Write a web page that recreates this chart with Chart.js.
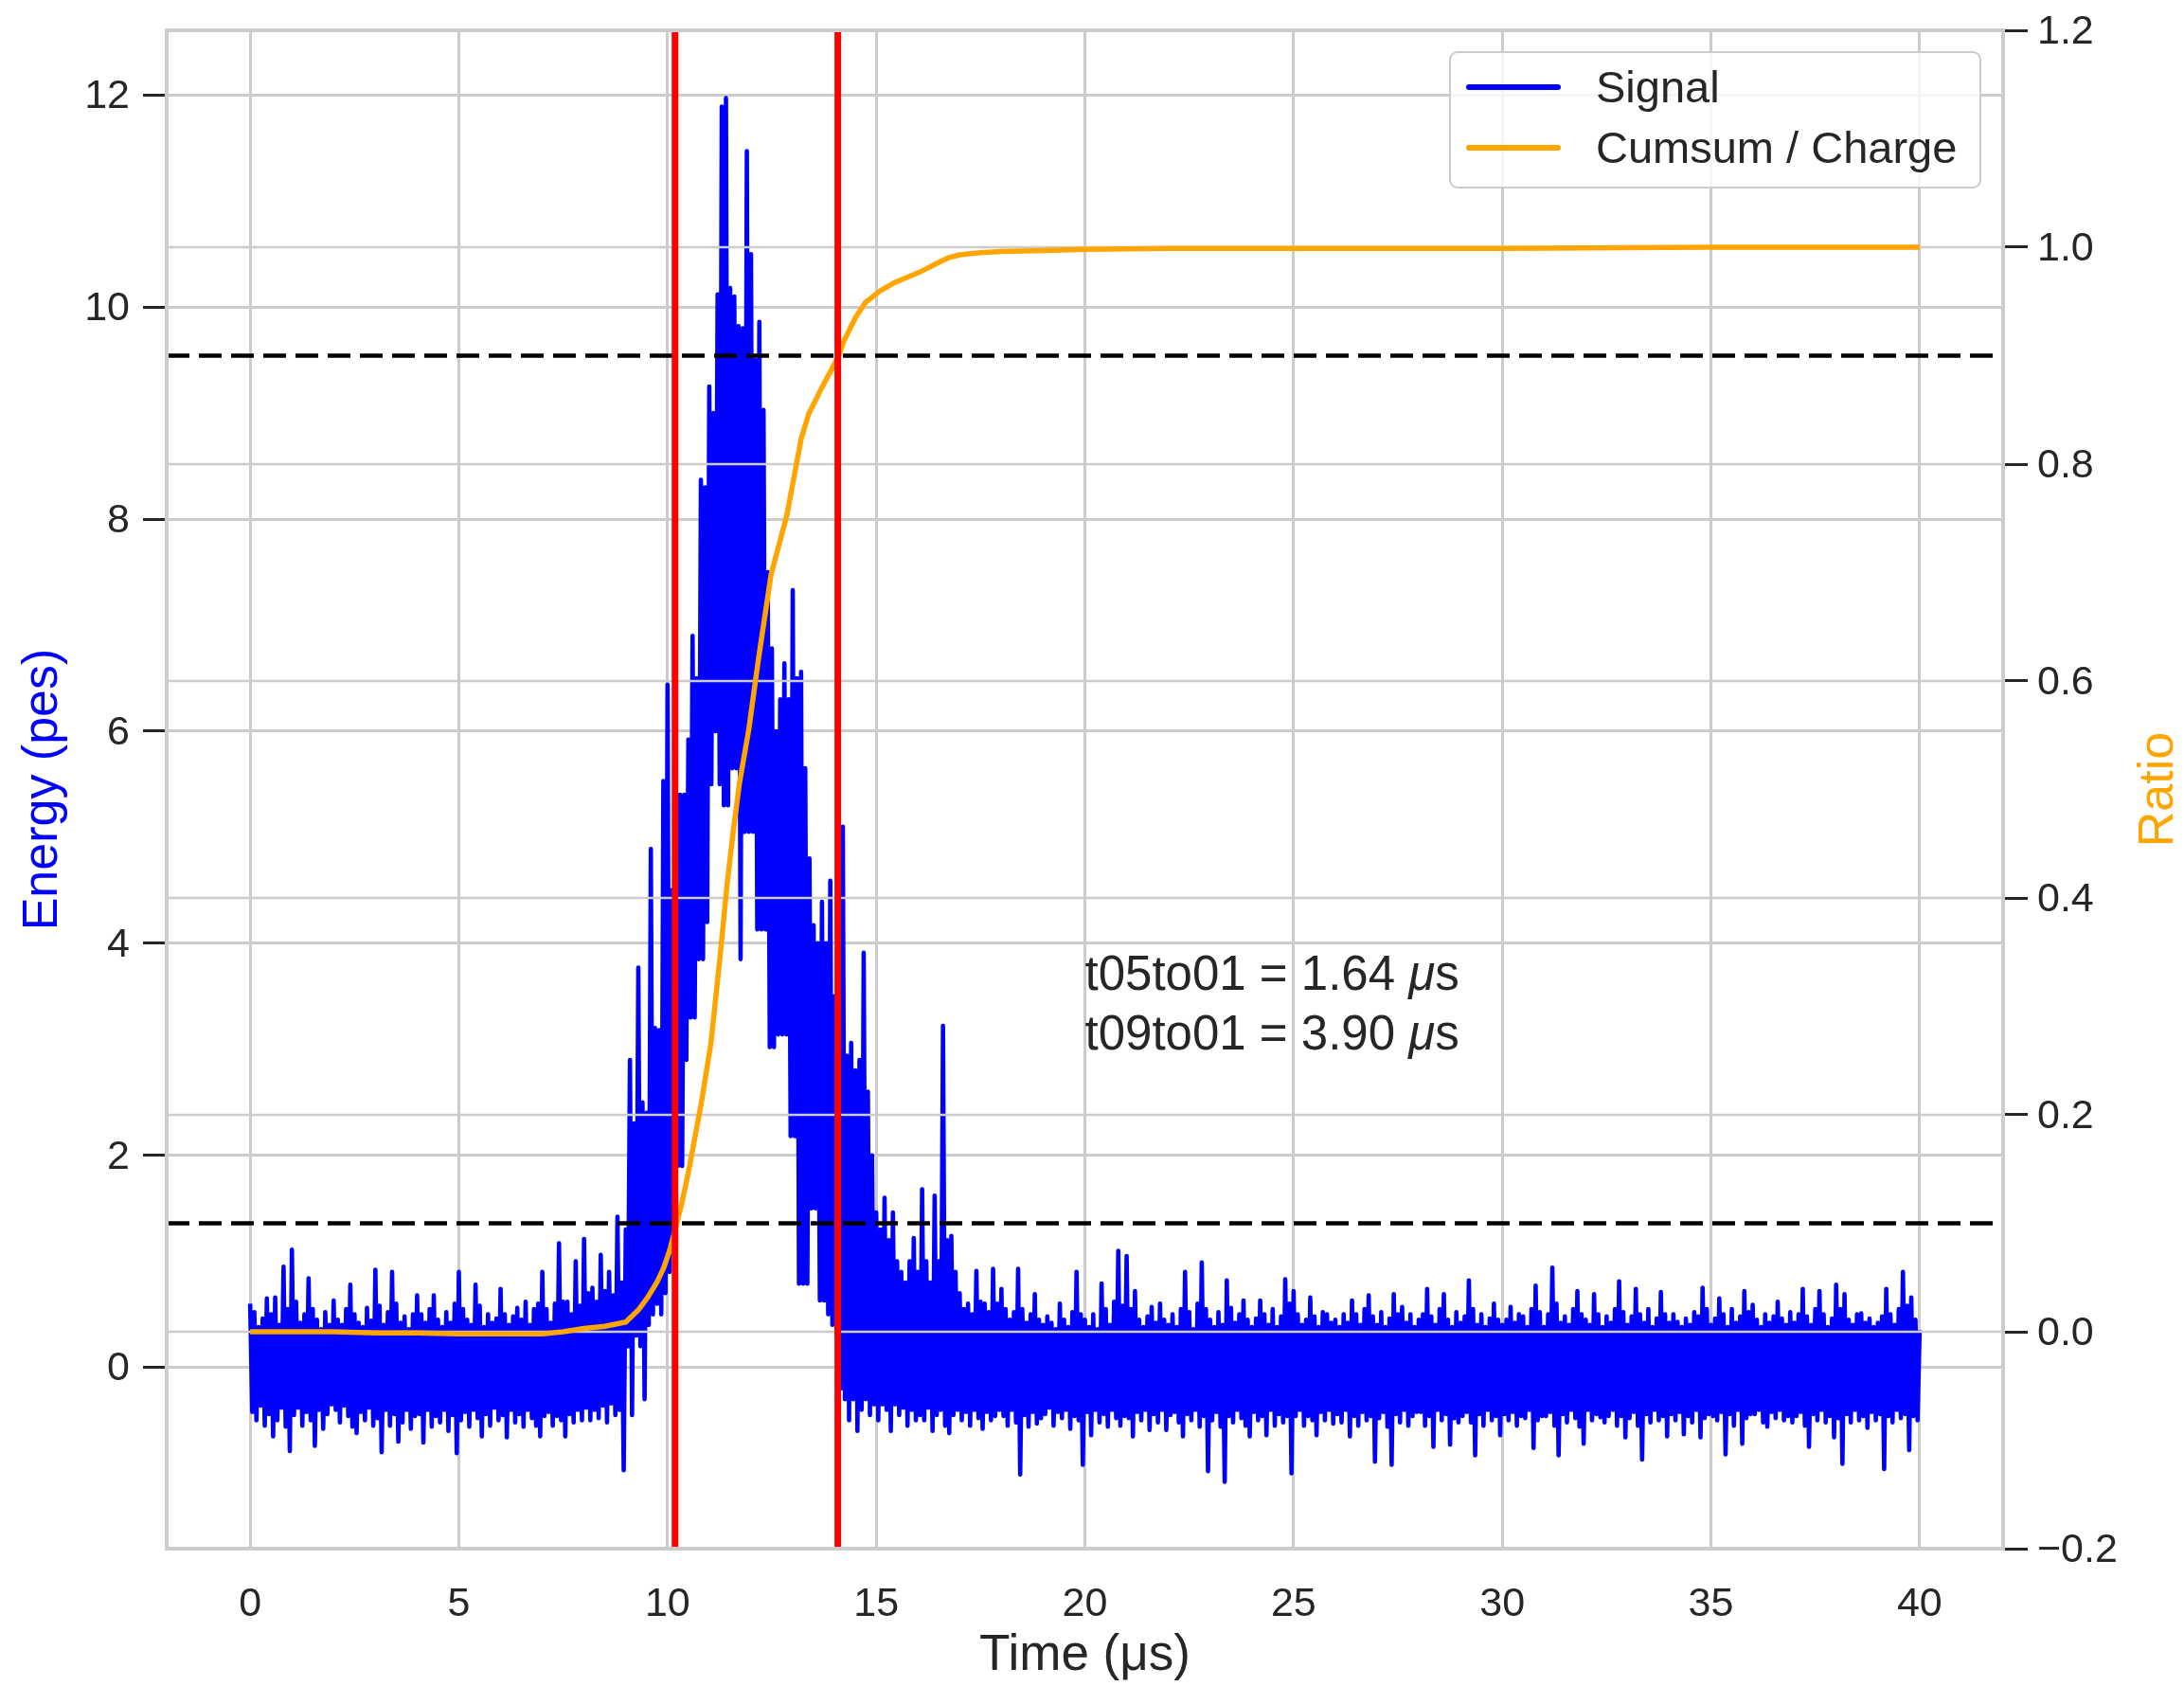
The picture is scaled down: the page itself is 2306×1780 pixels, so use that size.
<!DOCTYPE html>
<html>
<head>
<meta charset="utf-8">
<title>Signal and cumulative charge</title>
<script src="https://cdn.jsdelivr.net/npm/chart.js@4.4.1/dist/chart.umd.min.js"></script>
<style>
  html, body { margin: 0; padding: 0; background: #fff; }
  canvas { display: block; }
</style>
</head>
<body>
<canvas id="waveform" width="2306" height="1780"></canvas>
<script>
// signal in pes per 0.1 us bin:
// signalHigh = top of the trace at the start of each bin, signalLow = bottom at its middle
const binWidth = 0.1;
const signalHigh = [
  0.60, 0.52, 0.38, 0.46, 0.65, 0.50, 0.66, 0.40, 0.95, 0.55,    // 0
  1.11, 0.62, 0.42, 0.50, 0.84, 0.55, 0.45, 0.36, 0.52, 0.40,    // 1
  0.63, 0.45, 0.40, 0.55, 0.78, 0.50, 0.42, 0.38, 0.56, 0.44,    // 2
  0.92, 0.58, 0.40, 0.52, 0.90, 0.60, 0.42, 0.48, 0.36, 0.50,    // 3
  0.68, 0.50, 0.42, 0.55, 0.68, 0.45, 0.38, 0.52, 0.42, 0.60,    // 4
  0.90, 0.55, 0.45, 0.40, 0.78, 0.58, 0.38, 0.50, 0.42, 0.46,    // 5
  0.74, 0.50, 0.40, 0.48, 0.56, 0.45, 0.62, 0.40, 0.55, 0.60,    // 6
  0.90, 0.55, 0.42, 0.60, 1.17, 0.62, 0.62, 0.50, 1.00, 0.58,    // 7
  1.21, 0.70, 0.75, 0.62, 1.06, 0.72, 0.90, 0.68, 1.42, 0.80,    // 8
  1.30, 2.90, 2.30, 3.77, 2.50, 2.40, 4.89, 3.20, 3.18, 5.53,    // 9
  6.44, 4.50, 5.37, 5.40, 5.40, 5.92, 6.90, 6.50, 8.37, 8.30,    // 10
  9.25, 9.00, 10.12, 11.89, 11.97, 10.18, 10.10, 9.82, 9.80, 11.47, // 11
  10.50, 9.50, 9.86, 9.03, 7.50, 6.78, 6.00, 6.30, 6.64, 6.30,   // 12
  7.33, 6.50, 6.56, 5.65, 4.80, 4.17, 4.00, 4.39, 4.00, 4.59,    // 13
  3.50, 3.00, 5.10, 2.94, 3.06, 2.80, 2.90, 3.91, 2.60, 2.00,    // 14
  1.46, 1.30, 1.60, 1.20, 1.46, 1.00, 0.90, 0.80, 1.00, 1.22,    // 15
  0.90, 1.68, 1.00, 0.80, 1.62, 1.00, 3.22, 1.20, 1.24, 0.90,    // 16
  0.70, 0.55, 0.60, 0.50, 0.91, 0.62, 0.60, 0.52, 0.93, 0.60,    // 17
  0.74, 0.55, 0.45, 0.52, 0.93, 0.55, 0.42, 0.50, 0.69, 0.45,    // 18
  0.40, 0.48, 0.42, 0.36, 0.60, 0.45, 0.38, 0.52, 0.90, 0.50,    // 19
  0.45, 0.38, 0.50, 0.36, 0.79, 0.55, 0.40, 0.62, 1.10, 0.58,    // 20
  1.05, 0.55, 0.72, 0.45, 0.38, 0.48, 0.57, 0.42, 0.60, 0.45,    // 21
  0.40, 0.50, 0.38, 0.55, 0.90, 0.52, 0.36, 0.60, 0.99, 0.55,    // 22
  0.45, 0.38, 0.52, 0.40, 0.82, 0.56, 0.42, 0.50, 0.63, 0.45,    // 23
  0.38, 0.46, 0.63, 0.50, 0.40, 0.55, 0.38, 0.48, 0.83, 0.60,    // 24
  0.72, 0.50, 0.40, 0.45, 0.66, 0.48, 0.38, 0.52, 0.50, 0.42,    // 25
  0.45, 0.38, 0.50, 0.42, 0.63, 0.50, 0.40, 0.55, 0.68, 0.48,    // 26
  0.40, 0.52, 0.38, 0.46, 0.69, 0.50, 0.57, 0.42, 0.50, 0.38,    // 27
  0.45, 0.50, 0.74, 0.48, 0.40, 0.55, 0.69, 0.45, 0.38, 0.52,    // 28
  0.42, 0.48, 0.82, 0.55, 0.40, 0.50, 0.38, 0.46, 0.60, 0.45,    // 29
  0.40, 0.45, 0.57, 0.42, 0.50, 0.48, 0.38, 0.55, 0.77, 0.52,    // 30
  0.38, 0.50, 0.94, 0.60, 0.42, 0.48, 0.40, 0.55, 0.72, 0.50,    // 31
  0.45, 0.40, 0.69, 0.50, 0.38, 0.48, 0.42, 0.55, 0.81, 0.52,    // 32
  0.40, 0.48, 0.74, 0.50, 0.42, 0.55, 0.38, 0.46, 0.71, 0.50,    // 33
  0.42, 0.50, 0.43, 0.38, 0.46, 0.40, 0.52, 0.48, 0.75, 0.55,    // 34
  0.40, 0.46, 0.65, 0.50, 0.38, 0.55, 0.42, 0.48, 0.72, 0.52,    // 35
  0.59, 0.45, 0.38, 0.50, 0.42, 0.48, 0.62, 0.46, 0.40, 0.52,    // 36
  0.42, 0.50, 0.74, 0.48, 0.40, 0.55, 0.72, 0.50, 0.38, 0.46,    // 37
  0.78, 0.55, 0.69, 0.45, 0.40, 0.50, 0.51, 0.42, 0.46, 0.38,    // 38
  0.42, 0.48, 0.74, 0.50, 0.40, 0.55, 0.90, 0.58, 0.66, 0.45,    // 39
  0.35                                                           // 40
];
const signalLow = [
  -0.42, -0.50, -0.36, -0.55, -0.44, -0.65, -0.50, -0.38, -0.56, -0.79,  // 0
  -0.45, -0.38, -0.55, -0.42, -0.50, -0.74, -0.40, -0.58, -0.44, -0.35,  // 1
  -0.40, -0.52, -0.36, -0.46, -0.56, -0.62, -0.42, -0.50, -0.38, -0.55,  // 2
  -0.48, -0.80, -0.40, -0.55, -0.44, -0.70, -0.52, -0.40, -0.58, -0.46,  // 3
  -0.44, -0.71, -0.40, -0.56, -0.46, -0.52, -0.40, -0.60, -0.45, -0.81,  // 4
  -0.50, -0.42, -0.56, -0.40, -0.48, -0.65, -0.44, -0.55, -0.38, -0.50,  // 5
  -0.45, -0.66, -0.40, -0.52, -0.44, -0.56, -0.40, -0.48, -0.55, -0.65,  // 6
  -0.46, -0.42, -0.55, -0.46, -0.50, -0.65, -0.44, -0.52, -0.40, -0.50,  // 7
  -0.38, -0.50, -0.40, -0.48, -0.36, -0.52, -0.34, -0.45, -0.40, -0.97,  // 8
  0.20, -0.45, 0.30, 0.20, -0.30, 0.40, 0.50, 0.60, 0.50, 0.70,          // 9
  0.90, 1.20, 1.90, 1.90, 2.90, 3.30, 3.30, 3.85, 3.85, 4.20,            // 10
  5.50, 6.00, 5.50, 5.30, 5.30, 5.65, 5.65, 3.85, 5.05, 5.05,            // 11
  5.05, 4.13, 4.13, 4.13, 3.02, 3.02, 3.14, 3.14, 3.14, 2.18,            // 12
  2.18, 0.79, 0.79, 0.79, 1.50, 1.50, 0.63, 0.63, 0.50, 0.40,            // 13
  0.30, -0.20, -0.30, -0.50, -0.30, -0.60, -0.40, -0.30, -0.45, -0.35,   // 14
  -0.50, -0.35, -0.40, -0.60, -0.35, -0.45, -0.38, -0.55, -0.40, -0.50,  // 15
  -0.45, -0.50, -0.38, -0.60, -0.45, -0.40, -0.55, -0.62, -0.45, -0.40,  // 16
  -0.50, -0.42, -0.55, -0.40, -0.48, -0.58, -0.42, -0.50, -0.46, -0.40,  // 17
  -0.46, -0.55, -0.40, -0.52, -1.01, -0.45, -0.56, -0.42, -0.53, -0.48,  // 18
  -0.44, -0.38, -0.55, -0.42, -0.48, -0.40, -0.58, -0.46, -0.50, -0.92,  // 19
  -0.42, -0.64, -0.40, -0.52, -0.44, -0.56, -0.40, -0.48, -0.55, -0.46,  // 20
  -0.48, -0.65, -0.42, -0.50, -0.40, -0.59, -0.44, -0.52, -0.40, -0.59,  // 21
  -0.45, -0.42, -0.52, -0.65, -0.44, -0.50, -0.40, -0.56, -0.46, -0.98,  // 22
  -0.50, -0.42, -0.56, -1.08, -0.46, -0.52, -0.40, -0.48, -0.55, -0.65,  // 23
  -0.42, -0.50, -0.46, -0.64, -0.40, -0.55, -0.44, -0.52, -0.46, -1.00,  // 24
  -0.46, -0.40, -0.55, -0.46, -0.50, -0.64, -0.42, -0.50, -0.40, -0.53,  // 25
  -0.44, -0.52, -0.40, -0.65, -0.46, -0.55, -0.42, -0.50, -0.46, -0.89,  // 26
  -0.48, -0.42, -0.56, -0.92, -0.44, -0.52, -0.40, -0.55, -0.46, -0.42,  // 27
  -0.42, -0.55, -0.46, -0.75, -0.40, -0.50, -0.44, -0.73, -0.48, -0.52,  // 28
  -0.46, -0.42, -0.52, -0.83, -0.44, -0.55, -0.40, -0.50, -0.46, -0.64,  // 29
  -0.44, -0.50, -0.42, -0.55, -0.46, -0.48, -0.40, -0.76, -0.50, -0.46,  // 30
  -0.46, -0.42, -0.55, -0.83, -0.44, -0.52, -0.40, -0.48, -0.56, -0.72,  // 31
  -0.40, -0.50, -0.44, -0.47, -0.52, -0.46, -0.40, -0.55, -0.46, -0.66,  // 32
  -0.48, -0.42, -0.55, -0.87, -0.44, -0.52, -0.40, -0.50, -0.46, -0.65,  // 33
  -0.44, -0.50, -0.42, -0.63, -0.46, -0.52, -0.40, -0.66, -0.48, -0.44,  // 34
  -0.46, -0.50, -0.42, -0.82, -0.44, -0.55, -0.40, -0.72, -0.48, -0.44,  // 35
  -0.44, -0.40, -0.52, -0.56, -0.42, -0.48, -0.40, -0.50, -0.46, -0.52,  // 36
  -0.46, -0.42, -0.55, -0.75, -0.44, -0.50, -0.40, -0.52, -0.46, -0.66,  // 37
  -0.48, -0.91, -0.44, -0.52, -0.40, -0.50, -0.46, -0.57, -0.42, -0.50,  // 38
  -0.44, -0.96, -0.46, -0.52, -0.40, -0.48, -0.44, -0.78, -0.46, -0.50   // 39
];

// cumulative sum / charge, right axis
const ratioTimes = [0, 1, 2, 3, 4, 5, 6, 7, 7.5, 8, 8.5, 9, 9.3, 9.53, 9.75, 9.91,
  10.05, 10.21, 10.35, 10.51, 10.65, 10.81, 11.04, 11.27, 11.42, 11.57, 11.72, 11.95,
  12.17, 12.48, 12.86, 13.2, 13.38, 13.69, 13.9, 14.1, 14.22, 14.5, 14.74, 15.1,
  15.42, 16.04, 16.4, 16.71, 17, 17.5, 18, 19, 20, 22, 25, 28, 30, 35, 40];
const ratioValues = [0, 0, 0, -0.001, -0.001, -0.002, -0.002, -0.002, 0, 0.003, 0.005, 0.009,
  0.02, 0.032, 0.046, 0.059, 0.075, 0.098, 0.12, 0.149, 0.178, 0.211, 0.266, 0.35,
  0.41, 0.46, 0.505, 0.556, 0.618, 0.698, 0.753, 0.823, 0.846, 0.87, 0.885, 0.9,
  0.913, 0.935, 0.949, 0.96, 0.967, 0.977, 0.984, 0.99, 0.993, 0.995, 0.996, 0.997,
  0.998, 0.999, 0.999, 0.999, 0.999, 1.0, 1.0];

const thresholdLevels = [0.1, 0.9];      // dashed lines, ratio axis
const markerTimes = [10.18, 14.08];      // red lines, us

const riseLabels = ['t05to01', 't09to01'];
const riseValues = [1.64, 3.90];

const timeTicks = [0, 5, 10, 15, 20, 25, 30, 35, 40];
const energyTicks = [0, 2, 4, 6, 8, 10, 12];
const ratioTicks = [-0.2, 0, 0.2, 0.4, 0.6, 0.8, 1.0, 1.2];

const timeRange = [-2, 42];
const energyRange = [-1.71, 12.61];
const ratioRange = [-0.2, 1.2];

const FONT = '"Liberation Sans", Arial, Helvetica, sans-serif';
const INK = '#262626';
const GRID = '#cccccc';

const signalPoints = [];
signalHigh.forEach((h, i) => {
  signalPoints.push({x: +(i * binWidth).toFixed(2), y: h});
  if (i < signalLow.length) {
    signalPoints.push({x: +(i * binWidth + binWidth / 2).toFixed(2), y: signalLow[i]});
  }
});
const ratioPoints = ratioTimes.map((t, i) => ({x: t, y: ratioValues[i]}));

// second axis grid sits above the signal, like a twin axes in matplotlib
const overlay = {
  id: 'overlay',
  afterDatasetDraw(chart, args) {
    if (args.index !== 0) return;
    const ctx = chart.ctx, a = chart.chartArea, s = chart.scales.y1;
    ctx.save();
    ctx.strokeStyle = GRID;
    ctx.lineWidth = 2.5;
    ratioTicks.forEach(v => {
      const y = s.getPixelForValue(v);
      ctx.beginPath();
      ctx.moveTo(a.left, y);
      ctx.lineTo(a.right, y);
      ctx.stroke();
    });
    ctx.restore();
  },
  afterDatasetsDraw(chart) {
    const ctx = chart.ctx, a = chart.chartArea;
    const xs = chart.scales.x, ys = chart.scales.y;
    ctx.save();

    // frame
    ctx.strokeStyle = GRID;
    ctx.lineWidth = 4;
    ctx.strokeRect(a.left, a.top, a.right - a.left, a.bottom - a.top);

    // rise time text
    ctx.fillStyle = INK;
    ctx.textBaseline = 'alphabetic';
    ctx.textAlign = 'left';
    const tx = xs.getPixelForValue(20);
    let ty = ys.getPixelForValue(3.56);
    riseLabels.forEach((lab, i) => {
      const parts = [[lab + ' = ' + riseValues[i].toFixed(2) + ' ', 'normal'], ['μ', 'italic'], ['s', 'normal']];
      let x = tx;
      parts.forEach(p => {
        ctx.font = p[1] + ' 51px ' + FONT;
        ctx.fillText(p[0], x, ty);
        x += ctx.measureText(p[0]).width;
      });
      ty += 63;
    });

    // legend
    const w = 560, h = 143;
    const lx = a.right - 24 - w, ly = a.top + 23, r = 8;
    ctx.beginPath();
    ctx.moveTo(lx + r, ly);
    ctx.arcTo(lx + w, ly, lx + w, ly + h, r);
    ctx.arcTo(lx + w, ly + h, lx, ly + h, r);
    ctx.arcTo(lx, ly + h, lx, ly, r);
    ctx.arcTo(lx, ly, lx + w, ly, r);
    ctx.closePath();
    ctx.fillStyle = 'rgba(255,255,255,0.8)';
    ctx.fill();
    ctx.strokeStyle = GRID;
    ctx.lineWidth = 2;
    ctx.stroke();
    const items = chart.data.datasets.slice(0, 2);
    items.forEach((ds, i) => {
      const yy = ly + 37 + i * 64;
      ctx.strokeStyle = ds.borderColor;
      ctx.lineWidth = 6;
      ctx.lineCap = 'round';
      ctx.beginPath();
      ctx.moveTo(lx + 20, yy);
      ctx.lineTo(lx + 114, yy);
      ctx.stroke();
      ctx.fillStyle = INK;
      ctx.font = '47px ' + FONT;
      ctx.fillText(ds.label, lx + 154, yy + 16);
    });

    // right axis title, reads bottom to top
    ctx.translate(2280, (a.top + a.bottom) / 2);
    ctx.rotate(-Math.PI / 2);
    ctx.fillStyle = '#ffa500';
    ctx.font = '52px ' + FONT;
    ctx.textAlign = 'center';
    ctx.textBaseline = 'middle';
    ctx.fillText('Ratio', 0, 0);
    ctx.restore();
  }
};

function fixWidth(w) {
  return s => { s.width = w; s.paddingTop = 0; s.paddingBottom = 0; };
}

new Chart(document.getElementById('waveform'), {
  type: 'line',
  data: {
    datasets: [
      {label: 'Signal', data: signalPoints, yAxisID: 'y', borderColor: '#0000ff', borderWidth: 4.6, order: 5},
      {label: 'Cumsum / Charge', data: ratioPoints, yAxisID: 'y1', borderColor: '#ffa500', borderWidth: 5.5, order: 4}
    ].concat(thresholdLevels.map(l => ({
      label: 'threshold', yAxisID: 'y1', borderColor: '#000000', borderWidth: 4.5, borderDash: [24, 10], order: 2,
      data: [{x: timeRange[0], y: l}, {x: timeRange[1], y: l}]
    }))).concat(markerTimes.map(t => ({
      label: 'marker', yAxisID: 'y1', borderColor: '#ff0000', borderWidth: 7, order: 1,
      data: [{x: t, y: ratioRange[0]}, {x: t, y: ratioRange[1]}]
    })))
  },
  options: {
    responsive: false,
    animation: false,
    devicePixelRatio: 1,
    events: [],
    layout: {padding: {top: 32, left: 0, right: 0, bottom: 0}},
    elements: {
      point: {radius: 0},
      line: {tension: 0, fill: false, borderJoinStyle: 'round'}
    },
    plugins: {legend: {display: false}, tooltip: {enabled: false}},
    scales: {
      x: {
        type: 'linear', min: timeRange[0], max: timeRange[1],
        afterBuildTicks: s => { s.ticks = timeTicks.map(v => ({value: v})); },
        afterFit: s => { s.height = 145; s.paddingLeft = 0; s.paddingRight = 0; },
        border: {display: false},
        grid: {color: GRID, lineWidth: 3, drawTicks: false},
        ticks: {color: INK, font: {family: FONT, size: 43}, padding: 33, maxRotation: 0},
        title: {display: true, text: 'Time (μs)', color: INK, font: {family: FONT, size: 53}, padding: {top: 0, bottom: 0}}
      },
      y: {
        type: 'linear', position: 'left', min: energyRange[0], max: energyRange[1],
        afterBuildTicks: s => { s.ticks = energyTicks.map(v => ({value: v})); },
        afterFit: fixWidth(176),
        border: {display: false},
        grid: {color: GRID, lineWidth: 3, tickLength: 25, tickColor: INK, tickWidth: 3},
        ticks: {color: INK, font: {family: FONT, size: 43}, padding: 14, labelOffset: 2},
        title: {display: true, text: 'Energy (pes)', color: '#0000ff', font: {family: FONT, size: 52}, padding: {top: 14, bottom: 0}}
      },
      y1: {
        type: 'linear', position: 'right', min: ratioRange[0], max: ratioRange[1],
        afterBuildTicks: s => { s.ticks = ratioTicks.map(v => ({value: v})); },
        afterFit: fixWidth(191),
        border: {display: false},
        grid: {drawOnChartArea: false, tickLength: 26, tickColor: INK, tickWidth: 3},
        ticks: {
          color: INK, font: {family: FONT, size: 43}, padding: 10, labelOffset: 2,
          callback: v => (v < 0 ? '\u2212' : '') + Math.abs(v).toFixed(1)
        }
      }
    }
  },
  plugins: [overlay]
});
</script>
</body>
</html>
